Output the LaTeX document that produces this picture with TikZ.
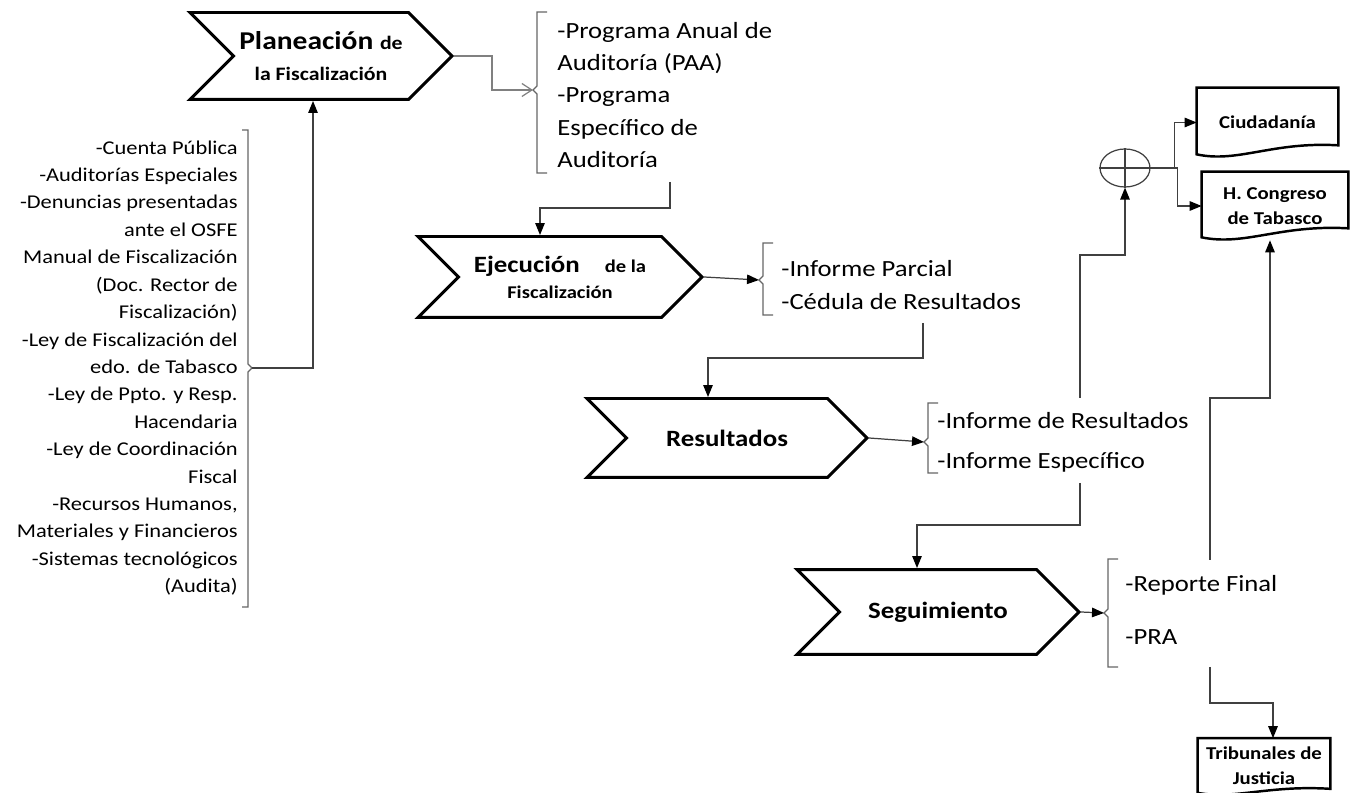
\documentclass[tikz,border=0pt]{standalone}
\usepackage{fontspec}
\setmainfont{Carlito}[FakeStretch=1.15]
\usetikzlibrary{shapes.symbols,shapes.geometric,arrows.meta,calc}

\tikzset{
  chev/.style={signal, signal from=west, signal to=east, signal pointer angle=90, draw, line width=1.7pt, align=center, inner sep=0pt, font=\bfseries\fontsize{13.3}{15}\selectfont},
  docu/.style={rectangle, align=center, inner sep=0pt, font=\bfseries\fontsize{10.3}{14.2}\selectfont},
  docline/.style={line width=1.4pt},
  lst/.style={inner sep=0pt, align=left},
  brk/.style={black!60, line width=0.7pt},
  conn/.style={black!75, line width=0.7pt, -{Triangle[length=2.4mm,width=1.9mm,color=black]}},
}

\begin{document}
\begin{tikzpicture}[x=0.02cm,y=-0.02cm]
\useasboundingbox (0,0) rectangle (1353,793);

\node[chev, minimum width=5.24cm, minimum height=1.74cm, font=\bfseries\fontsize{14.6}{18}\selectfont] (plan) at (321,56) {Planeación {\fontsize{10.8}{18}\selectfont de}\\{\fontsize{10.8}{18}\selectfont la Fiscalización}};
\node[chev, minimum width=5.68cm, minimum height=1.62cm, font=\bfseries\fontsize{13.3}{14.7}\selectfont] (ejec) at (560,277) {Ejecución\hspace{0.5cm}{\fontsize{10.2}{14.7}\selectfont de la}\\{\fontsize{10.2}{14.7}\selectfont Fiscalización}};
\node[chev, minimum width=5.6cm, minimum height=1.58cm] (res) at (727,438) {Resultados};
\node[chev, minimum width=5.64cm, minimum height=1.7cm] (seg) at (938,612) {Seguimiento};

\node[lst, align=right, anchor=east, font=\fontsize{11.1}{15.6}\selectfont] (insumos) at (238,368) {-Cuenta Pública\\-Auditorías Especiales\\-Denuncias presentadas\\ante el OSFE\\Manual de Fiscalización\\(Doc. Rector de\\Fiscalización)\\-Ley de Fiscalización del\\edo. de Tabasco\\-Ley de Ppto. y Resp.\\Hacendaria\\-Ley de Coordinación\\Fiscal\\-Recursos Humanos,\\Materiales y Financieros\\-Sistemas tecnológicos\\(Audita)};
\node[lst, anchor=west, font=\fontsize{13.2}{18.4}\selectfont] (paa) at (557,95) {-Programa Anual de\\Auditoría (PAA)\\-Programa\\Específico de\\Auditoría};
\node[lst, anchor=west, font=\fontsize{13.2}{19.3}\selectfont] (parcial) at (781,285) {-Informe Parcial\\-Cédula de Resultados};
\node[lst, anchor=west, font=\fontsize{13.2}{22.7}\selectfont] (informes) at (937,442) {-Informe de Resultados\\-Informe Específico};
\node[lst, anchor=west, font=\fontsize{13.2}{30.6}\selectfont] (reporte) at (1125,610) {-Reporte Final\\-PRA};

\draw[brk] (242,130) -- (248,130) -- (248,364) -- (252,368) -- (248,372) -- (248,607) -- (242,607);
\foreach \x/\t/\b/\m in {537/12/173/90, 763/243/315/280, 928/403/473/442, 1108/559/667/613}
  \draw[brk] (\x+10,\t) -- (\x,\t) -- (\x,\m-4) -- (\x-4,\m) -- (\x,\m+4) -- (\x,\b) -- (\x+10,\b);
\coordinate (b0) at (252,368);
\coordinate (b1) at (533,90);
\coordinate (b2) at (759,280);
\coordinate (b3) at (924,442);
\coordinate (b4) at (1104,613);

\node[ellipse, draw=black!75, line width=0.7pt, minimum width=1cm, minimum height=0.76cm, inner sep=0pt] (sum) at (1125,168) {};
\draw[black!75, line width=0.7pt] (sum.north) -- (sum.south) (sum.west) -- (sum.east);

\node[docu, minimum width=2.82cm, minimum height=1.38cm] (ciud) at (1267.5,122.5) {Ciudadanía};
\node[docu, minimum width=2.92cm, minimum height=1.36cm] (cong) at (1275,206) {H. Congreso\\de Tabasco};
\node[docu, minimum width=2.64cm, minimum height=1.1cm] (trib) at (1264,766) {Tribunales de\\Justicia};
\foreach \n/\r/\l in {ciud/12/3, cong/12/3, trib/5/1}
  \draw[docline] (\n.north west) -- (\n.north east) -- ($(\n.south east)+(0,-\r)$) .. controls ($(\n.south)+(5,-\r-4)$) and ($(\n.south)+(-30,6)$) .. ($(\n.south west)+(0,-\l)$) -- cycle;

\draw[black!50, line width=0.7pt, -{Straight Barb[length=2mm,width=2.6mm]}] (plan.east) -- ++(38,0) |- (b1);
\draw[conn] (b0) -| ($(plan.south)+(-8,0)$);
\coordinate (o1) at (670,182);
\draw[conn] (o1) -- ++(0,26) -| ($(ejec.north)+(-20,0)$);
\draw[conn] (ejec.east) -- (b2);
\coordinate (o2) at (923,323);
\draw[conn] (o2) -- ++(0,35) -| ($(res.north)+(-19,0)$);
\draw[conn] (res.east) -- (b3);
\coordinate (o3) at (1080,483);
\draw[conn] (o3) -- ++(0,42) -| ($(seg.north)+(-21,0)$);
\draw[conn] (seg.east) -- (b4);
\coordinate (o4) at (1210,667);
\draw[conn] (o4) -- ++(0,36) -| ($(trib.north)+(9,0)$);
\coordinate (o5) at (1080,398);
\draw[conn] (o5) -- ++(0,-143) -| (sum.south);
\coordinate (o6) at (1210,560);
\draw[conn] (o6) -- ++(0,-162) -| ($(cong.south)+(-5,0)$);
\draw[conn] (sum.east) -- ++(24,0) |- (ciud.west);
\draw[conn] (sum.east) -- ++(27,0) |- (cong.west);
\end{tikzpicture}
\end{document}
